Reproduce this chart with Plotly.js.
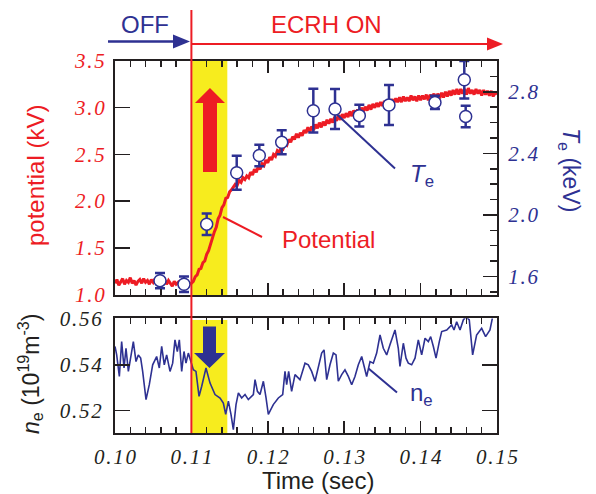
<!DOCTYPE html>
<html><head><meta charset="utf-8">
<script src="https://cdn.plot.ly/plotly-3.0.1.min.js"></script>
<style>html,body{margin:0;padding:0;background:#fff}</style>
</head><body>
<div id="chart" style="width:596px;height:494px"></div>
<script>
// ---------------- data ----------------
const teTime  = [0.10589,0.10903,0.11200,0.11593,0.11889,0.12182,0.12596,0.12880,0.13198,0.13586,0.14188,0.14572,0.14590];
const teValue = [1.573,1.550,1.940,2.274,2.386,2.472,2.677,2.688,2.645,2.714,2.731,2.878,2.640];
const teError = [0.050,0.050,0.070,0.110,0.070,0.078,0.142,0.130,0.070,0.130,0.043,0.122,0.070];

const potStart = 0.100, potStep = 0.00025;
const potValue = [
 1.12,1.16,1.10,1.14,1.17,1.11,1.15,1.13,1.18,1.12,
 1.15,1.10,1.14,1.16,1.12,1.17,1.13,1.15,1.11,1.16,
 1.13,1.17,1.12,1.15,1.10,1.14,1.16,1.11,1.15,1.12,
 1.09,1.14,1.11,1.13,1.08,1.12,1.10,1.13,1.09,1.11,
 1.12,
 1.14,1.19,1.21,1.27,1.28,1.34,1.36,1.43,1.47,1.54,1.59,1.67,1.72,1.81,1.85,1.93,1.96,2.03,2.04,2.10,
 2.12,2.15,2.18,2.17,2.22,2.20,2.25,2.23,2.27,2.25,
 2.31,2.28,2.34,2.31,2.37,2.34,2.40,2.38,2.44,2.41,2.47,2.44,2.50,2.48,2.54,2.52,2.58,2.56,2.62,2.60,2.66,2.63,2.69,2.66,2.72,2.68,2.73,2.70,2.76,2.73,
 2.79,2.74,2.80,2.76,2.82,2.78,2.84,2.79,2.85,2.81,2.87,2.83,2.88,2.84,2.90,2.86,2.92,2.87,
 2.93,2.89,2.94,2.90,2.96,2.91,2.97,2.93,2.98,2.94,3.00,2.96,3.01,2.97,3.03,2.98,3.04,3.00,3.05,3.01,
 3.06,3.02,3.07,3.03,3.08,3.04,3.09,3.05,3.10,3.06,3.11,3.06,3.12,3.07,3.11,3.07,3.13,3.08,3.12,3.07,3.13,3.08,
 3.13,3.09,3.14,3.08,3.14,3.10,3.15,3.09,3.15,3.10,3.16,3.11,3.17,3.12,3.18,3.13,3.19,3.14,3.20,3.14,
 3.20,3.15,3.20,3.14,3.21,3.15,3.19,3.14,3.20,3.15,3.19,3.13,3.19,3.14,3.18,3.13,3.18,3.12,3.17,3.14];

const neTime = [
 0.10000,0.10022,0.10057,0.10087,0.10118,0.10144,0.10175,0.10218,0.10240,0.10275,
 0.10305,0.10336,0.10362,0.10406,0.10449,0.10493,0.10545,0.10580,0.10611,0.10645,
 0.10676,0.10720,0.10755,0.10785,0.10816,0.10842,0.10873,0.10903,0.10929,0.10960,
 0.10991,0.11025,0.11060,0.11100,0.11135,0.11191,0.11244,0.11309,0.11375,0.11418,
 0.11449,0.11484,0.11518,0.11549,0.11584,0.11615,0.11658,0.11702,0.11745,0.11811,
 0.11833,0.11864,0.11898,0.11942,0.11977,0.12007,0.12072,0.12138,0.12195,0.12225,
 0.12247,0.12273,0.12312,0.12356,0.12421,0.12487,0.12530,0.12574,0.12618,0.12661,
 0.12705,0.12736,0.12771,0.12814,0.12858,0.12893,0.12923,0.12967,0.13010,0.13054,
 0.13098,0.13141,0.13185,0.13229,0.13272,0.13294,0.13338,0.13381,0.13425,0.13469,
 0.13512,0.13556,0.13599,0.13665,0.13708,0.13730,0.13774,0.13809,0.13839,0.13883,
 0.13927,0.13970,0.14014,0.14058,0.14101,0.14132,0.14167,0.14202,0.14245,0.14276,
 0.14342,0.14407,0.14437,0.14472,0.14516,0.14559,0.14594,0.14637,0.14681,0.14733,
 0.14799,0.14851,0.14908,0.14939];
const neValue = [
 0.5480,0.5443,0.5349,0.5501,0.5386,0.5472,0.5371,0.5458,0.5501,0.5414,
 0.5443,0.5429,0.5371,0.5248,0.5313,0.5400,0.5436,0.5386,0.5480,0.5400,
 0.5443,0.5371,0.5407,0.5509,0.5458,0.5509,0.5371,0.5458,0.5407,0.5451,
 0.5414,0.5378,0.5371,0.5262,0.5306,0.5386,0.5320,0.5270,0.5255,0.5233,
 0.5183,0.5241,0.5183,0.5117,0.5226,0.5277,0.5255,0.5270,0.5248,0.5270,
 0.5335,0.5284,0.5270,0.5328,0.5255,0.5183,0.5226,0.5255,0.5270,0.5371,
 0.5313,0.5371,0.5284,0.5357,0.5335,0.5407,0.5400,0.5371,0.5328,0.5386,
 0.5451,0.5465,0.5335,0.5400,0.5451,0.5443,0.5328,0.5357,0.5378,0.5349,
 0.5313,0.5349,0.5400,0.5436,0.5371,0.5349,0.5414,0.5407,0.5451,0.5530,
 0.5472,0.5443,0.5487,0.5552,0.5472,0.5393,0.5494,0.5429,0.5407,0.5400,
 0.5429,0.5509,0.5443,0.5516,0.5501,0.5523,0.5480,0.5429,0.5501,0.5545,
 0.5552,0.5574,0.5552,0.5588,0.5552,0.5596,0.5610,0.5596,0.5443,0.5530,
 0.5559,0.5523,0.5552,0.5603];

const xTickVals   = [0.10,0.11,0.12,0.13,0.14,0.15];
const xTickText   = ['0.10','0.11','0.12','0.13','0.14','0.15'];
const potTickVals = [1.0,1.5,2.0,2.5,3.0,3.5];
const potTickText = ['1.0','1.5','2.0','2.5','3.0','3.5'];
const teTickVals  = [1.6,2.0,2.4,2.8];
const teTickText  = ['1.6','2.0','2.4','2.8'];
const neTickVals  = [0.52,0.54,0.56];
const neTickText  = ['0.52','0.54','0.56'];
const ecrhWindow  = [0.1101,0.1147];
const ecrhStart   = 0.11;

// ---------------- styling ----------------
const RED = '#ed1c24', BLUE = '#2e3192', BLACK = '#231f20', YELLOW = '#f7ec1e';
const SANS = 'Liberation Sans, Arial, sans-serif';
const SERIF = 'Liberation Serif, Times New Roman, serif';
const W = 596, H = 494, ML = 115, MR = 99, MT = 61, MB = 61;
const PW = W - ML - MR, PH = H - MT - MB;
const px = v => (v - ML) / PW;             // pixel -> paper x
const py = v => (H - MB - v) / PH;          // pixel -> paper y
const spaced = s => s.split('').join('\u200A');
const potTime = potValue.map((_, i) => potStart + i * potStep);

const tickFont = c => ({family: SERIF, size: 21, color: c, style: 'italic'});
const axLine = {showline: true, linecolor: BLACK, linewidth: 2, showgrid: false, zeroline: false,
                ticks: 'inside', tickcolor: BLACK, tickwidth: 1.5};

const traces = [
  {x: potTime, y: potValue, xaxis: 'x2', yaxis: 'y2', type: 'scatter', mode: 'lines',
   line: {color: RED, width: 3}, hoverinfo: 'skip'},
  {x: teTime, y: teValue, xaxis: 'x2', yaxis: 'y3', type: 'scatter', mode: 'markers',
   marker: {symbol: 'circle', size: 12, color: '#ffffff', line: {color: BLUE, width: 1.5}},
   error_y: {type: 'data', array: teError, visible: true, color: BLUE, thickness: 2.5, width: 5}},
  {x: neTime, y: neValue, xaxis: 'x', yaxis: 'y', type: 'scatter', mode: 'lines',
   line: {color: BLUE, width: 1.6}}
];

function path(pts) {
  return 'M ' + pts.map(p => px(p[0]).toFixed(5) + ',' + py(p[1]).toFixed(5)).join(' L ') + ' Z';
}
function seg(x0, y0, x1, y1, color, w) {
  return {type: 'line', xref: 'paper', yref: 'paper', x0: px(x0), y0: py(y0), x1: px(x1), y1: py(y1),
          line: {color: color, width: w}, layer: 'above'};
}

const shapes = [
  {type: 'rect', xref: 'x2', yref: 'paper', x0: ecrhWindow[0], x1: ecrhWindow[1], y0: py(296.5), y1: 1,
   fillcolor: YELLOW, line: {width: 0}, layer: 'below'},
  {type: 'rect', xref: 'x', yref: 'paper', x0: ecrhWindow[0], x1: ecrhWindow[1], y0: 0, y1: py(320),
   fillcolor: YELLOW, line: {width: 0}, layer: 'below'},
  {type: 'line', xref: 'x', yref: 'paper', x0: ecrhStart, x1: ecrhStart, y0: 0, y1: py(10),
   line: {color: RED, width: 2}, layer: 'above'},
  // red up arrow
  {type: 'path', xref: 'paper', yref: 'paper', fillcolor: RED, line: {width: 0}, layer: 'above',
   path: path([[203,172],[217,172],[217,103],[225,103],[210,88],[195,103],[203,103]])},
  // blue down arrow
  {type: 'path', xref: 'paper', yref: 'paper', fillcolor: BLUE, line: {width: 0}, layer: 'above',
   path: path([[203,326.5],[216,326.5],[216,353],[225,353],[209.5,368],[194,353],[203,353]])},
  // OFF arrow
  seg(108, 41.5, 176, 41.5, BLUE, 2.5),
  {type: 'path', xref: 'paper', yref: 'paper', fillcolor: BLUE, line: {width: 0}, layer: 'above',
   path: path([[173,34.5],[190,41.5],[173,48.5]])},
  // ECRH ON arrow
  seg(191, 44, 490, 44, RED, 2),
  {type: 'path', xref: 'paper', yref: 'paper', fillcolor: RED, line: {width: 0}, layer: 'above',
   path: path([[487,37.5],[503,44],[487,50.5]])},
  // leader lines
  seg(223, 217, 262, 237, RED, 2),
  seg(337, 114.5, 395, 168.5, BLUE, 2),
  seg(368.5, 368.5, 397, 392.5, BLUE, 2)
];

function ann(text, x, y, color, size, angle) {
  return {text: text, xref: 'paper', yref: 'paper', x: px(x), y: py(y), xanchor: 'center', yanchor: 'middle',
          showarrow: false, textangle: angle || 0, font: {family: SANS, size: size, color: color}};
}
const annotations = [
  ann('OFF', 145, 24, BLUE, 24),
  ann('ECRH ON', 326, 24, RED, 24),
  ann('Potential', 328, 239, RED, 24),
  ann('<i>T</i><sub>e</sub>', 422, 175, BLUE, 24),
  ann('n<sub>e</sub>', 421, 394, BLUE, 24),
  ann('potential (kV)', 35, 176, RED, 24, -90),
  ann('<i>T</i><sub>e</sub> (keV)', 570, 170, BLUE, 23, 90),
  ann('<i>n</i><sub>e</sub> (10<sup>19</sup>m<sup>-3</sup>)', 30, 374, BLACK, 23, -90),
  ann('Time (sec)', 318, 481, BLACK, 24)
];

const xMinor = {ticks: 'inside', ticklen: 6, tickmode: 'linear', tick0: 0.1, dtick: 0.002, tickcolor: BLACK, tickwidth: 1.5};

const layout = {
  width: W, height: H, margin: {l: ML, r: MR, t: MT, b: MB},
  paper_bgcolor: '#ffffff', plot_bgcolor: 'rgba(0,0,0,0)', showlegend: false,
  xaxis: Object.assign({}, axLine, {domain: [0, 1], anchor: 'y', range: [0.1, 0.15], mirror: 'ticks',
    ticklen: 12, tickmode: 'array', tickvals: xTickVals, ticktext: xTickText.map(spaced),
    tickfont: tickFont(BLACK), ticklabelstandoff: 4, minor: xMinor}),
  xaxis2: Object.assign({}, axLine, {domain: [0, 1], anchor: 'y2', range: [0.1, 0.15], mirror: 'ticks',
    ticklen: 12, tickmode: 'array', tickvals: xTickVals, showticklabels: false, minor: xMinor}),
  yaxis: Object.assign({}, axLine, {domain: [0, py(318.3)], anchor: 'x', range: [0.5102, 0.5603], mirror: 'ticks',
    ticklen: 15, tickmode: 'array', tickvals: neTickVals, ticktext: neTickText.map(spaced),
    tickfont: tickFont(BLACK), ticklabelstandoff: 7}),
  yaxis2: Object.assign({}, axLine, {domain: [py(294.5), 1], anchor: 'x2', range: [1.0, 3.5],
    ticklen: 15, tickmode: 'array', tickvals: potTickVals, ticktext: potTickText.map(spaced),
    tickfont: tickFont(RED), ticklabelstandoff: 4}),
  yaxis3: Object.assign({}, axLine, {overlaying: 'y2', side: 'right', anchor: 'x2', range: [1.483, 3.0],
    ticklen: 14, tickmode: 'array', tickvals: teTickVals, ticktext: teTickText.map(spaced),
    tickfont: tickFont(BLUE), ticklabelstandoff: 5,
    minor: {ticks: 'inside', ticklen: 7, tickmode: 'linear', tick0: 1.6, dtick: 0.1, tickcolor: BLACK, tickwidth: 1.5}}),
  shapes: shapes,
  annotations: annotations
};

Plotly.newPlot('chart', traces, layout, {displayModeBar: false, staticPlot: true});
</script>
</body></html>
